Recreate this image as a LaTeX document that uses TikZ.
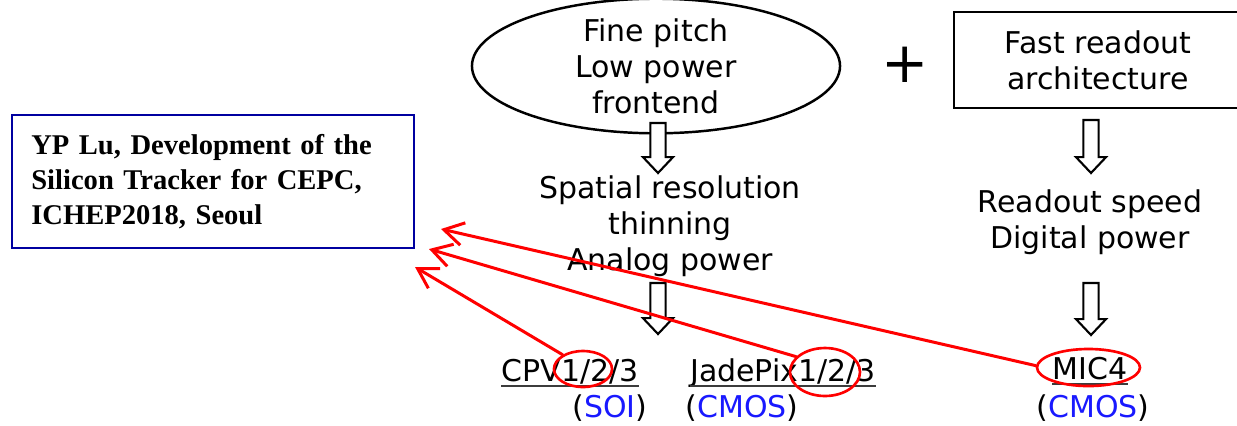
\documentclass[tikz,border=0pt]{standalone}
\usepackage{fontspec}
\setmainfont{DejaVu Sans}
\newfontfamily\citefont{Liberation Serif}
\usetikzlibrary{shapes.geometric,arrows.meta,calc}
\definecolor{citeblue}{RGB}{0,0,160}
\definecolor{techblue}{RGB}{25,25,255}
\definecolor{markred}{RGB}{255,0,0}
\definecolor{ulgray}{RGB}{60,60,60}

\tikzset{
  txt/.style={font=\fontsize{17}{20.4}\selectfont, align=center, inner sep=0pt},
  lbl/.style={font=\fontsize{17}{20.4}\selectfont, inner sep=0pt, anchor=base},
  uline/.style={draw=ulgray, line width=1.2pt},
  frame/.style={draw=black, line width=1.4pt},
  citebox/.style={draw=citeblue, line width=1.2pt, align=left,
    font=\citefont\bfseries\fontsize{16.2}{19.8}\selectfont,
    minimum width=228pt, minimum height=75.4pt, text width=206pt, inner xsep=11pt},
  ring/.style={ellipse, draw=markred, line width=1.5pt, inner sep=0pt},
  markarrow/.style={draw=markred, line width=1.7pt, line cap=round,
    -{Straight Barb[length=11pt, width=13pt]}},
  % hollow down-pointing block arrow between two points on a vertical line
  blockarrow/.style={draw=black, line width=1.2pt, fill=white,
    to path={let \p1=(\tikztostart), \p2=(\tikztotarget) in
      (\x1-4.3pt,\y1) -- (\x1-4.3pt,\y2+9pt) -- (\x1-8.5pt,\y2+9pt) -- (\x1,\y2)
      -- (\x1+8.5pt,\y2+9pt) -- (\x1+4.3pt,\y2+9pt) -- (\x1+4.3pt,\y1) -- cycle}}
}

\begin{document}
\begin{tikzpicture}[x=0.567pt, y=-0.567pt]
  \useasboundingbox (0,0) rectangle (1237,425);
  \fill[white] (0,0) rectangle (1237,425);

  % front-end branch
  \node[txt, ellipse, frame, minimum width=208.7pt, minimum height=63.5pt] (fe) at (656,66)
    {Fine pitch\\Low power\\frontend};
  \node[txt] (sp) at (670,226) {Spatial resolution\\thinning\\Analog power};

  % readout branch
  \node[font=\fontsize{32}{32}\selectfont, inner sep=0pt] (plus) at (905,65) {+};
  \node[txt, frame, minimum width=163.3pt, minimum height=54.4pt] (ro) at (1098,60)
    {Fast readout\\architecture};
  \node[txt] (rd) at (1090,222) {Readout speed\\Digital power};

  % chips
  \node[lbl] (cpv) at (570,381) {CPV1/2/3};
  \node[lbl] (soi) at (610,417) {(\textcolor{techblue}{SOI})};
  \node[lbl] (jade) at (783,381) {JadePix1/2/3};
  \node[lbl] (cmosa) at (742,417) {(\textcolor{techblue}{CMOS})};
  \node[lbl] (mic) at (1090,379) {MIC4};
  \node[lbl] (cmosb) at (1093,417) {(\textcolor{techblue}{CMOS})};
  \draw[uline] ([yshift=-2.8pt]cpv.base west) -- ([yshift=-2.8pt]cpv.base east);
  \draw[uline] ([yshift=-2.8pt]jade.base west) -- ([yshift=-2.8pt]jade.base east);
  \draw[uline] ([yshift=-2.8pt]mic.base west) -- ([yshift=-2.8pt]mic.base east);

  % block arrows
  \coordinate (a1s) at (658,123); \coordinate (a1e) at (658,173);
  \coordinate (a2s) at (658,283); \coordinate (a2e) at (658,334);
  \coordinate (a3s) at (1091,120); \coordinate (a3e) at (1091,173);
  \coordinate (a4s) at (1091,283); \coordinate (a4e) at (1091,335);
  \draw[blockarrow] (a1s) to (a1e);
  \draw[blockarrow] (a2s) to (a2e);
  \draw[blockarrow] (a3s) to (a3e);
  \draw[blockarrow] (a4s) to (a4e);

  % reference note
  \node[citebox] (cite) at (213,181.5)
    {YP Lu, Development of the\\Silicon Tracker for CEPC,\\ICHEP2018, Seoul};

  % red markings
  \node[ring, minimum width=32.9pt, minimum height=20.4pt] (cpvring) at (583,369) {};
  \node[ring, minimum width=39.7pt, minimum height=27.2pt] (jadering) at (825,372) {};
  \node[ring, minimum width=58.4pt, minimum height=21pt] (micring) at (1088.5,367.5) {};
  \coordinate (t1) at (415,267);
  \coordinate (t2) at (429,249);
  \coordinate (t3) at (441,229);
  \draw[markarrow] (cpvring.145) -- (t1);
  \draw[markarrow] (jadering.152) -- (t2);
  \draw[markarrow] (micring.178) -- (t3);
\end{tikzpicture}
\end{document}
